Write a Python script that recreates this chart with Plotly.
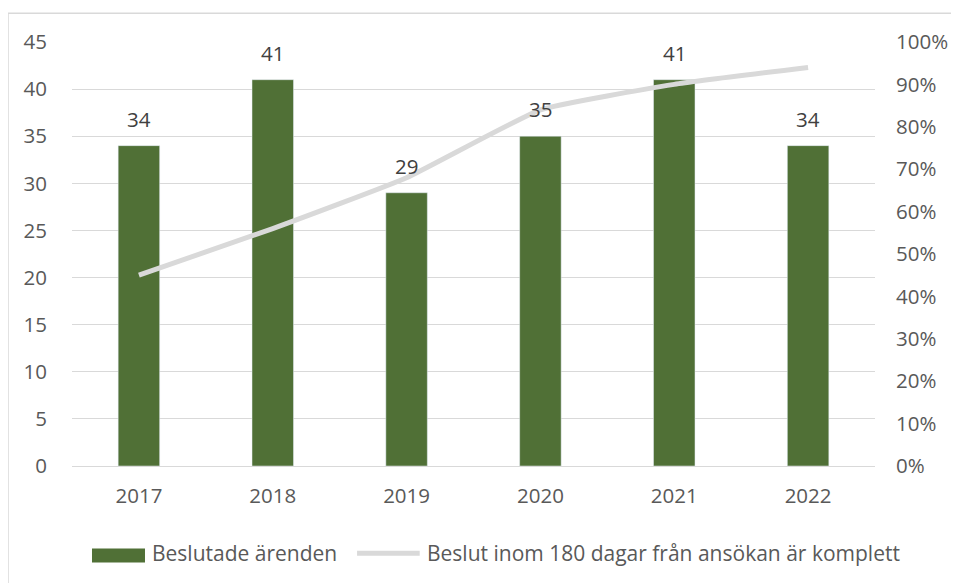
import plotly.graph_objects as go

years = ["2017", "2018", "2019", "2020", "2021", "2022"]
beslutade = [34, 41, 29, 35, 41, 34]
inom180 = [0.45, 0.56, 0.68, 0.84, 0.90, 0.94]
bar_name = "Beslutade ärenden"
line_name = "Beslut inom 180 dagar från ansökan är komplett"

FONT = "Open Sans"
FS = 20.5
LEG = 21
TICK = "#595959"
LABEL = "#404040"
GREEN = "#507036"
GREY = "#D9D9D9"

fig = go.Figure()
fig.add_trace(go.Bar(x=years, y=beslutade, name=bar_name, marker_color=GREEN,
                     width=0.31, showlegend=False))
fig.add_trace(go.Scatter(x=years, y=inom180, name=line_name, yaxis="y2", mode="lines",
                         line=dict(color=GREY, width=5, shape="spline", smoothing=0.4),
                         showlegend=False))

for i, v in enumerate(beslutade):
    fig.add_annotation(x=i, y=v, text=str(v), showarrow=False, yanchor="bottom",
                       yshift=11, font=dict(family=FONT, size=FS, color=LABEL))

# border
fig.add_shape(type="rect", xref="paper", yref="paper", x0=-0.0797, x1=1.2, y0=-0.4, y1=1.068,
              line=dict(color=GREY, width=1.5), fillcolor="rgba(0,0,0,0)", layer="below")

# manual legend
fig.add_shape(type="rect", xref="paper", yref="paper", x0=0.0249, x1=0.0909, y0=-0.1945, y1=-0.2275,
              line=dict(width=0), fillcolor=GREEN)
fig.add_annotation(xref="paper", yref="paper", x=0.0972, y=-0.206, xanchor="left", yanchor="middle",
                   text=bar_name, showarrow=False, font=dict(family=FONT, size=LEG, color=TICK))
fig.add_shape(type="line", xref="paper", yref="paper", x0=0.355, x1=0.433, y0=-0.206, y1=-0.206,
              line=dict(color=GREY, width=5))
fig.add_annotation(xref="paper", yref="paper", x=0.4396, y=-0.206, xanchor="left", yanchor="middle",
                   text=line_name, showarrow=False, font=dict(family=FONT, size=LEG, color=TICK))

fig.update_layout(
    width=951, height=575,
    margin=dict(l=64, r=84, t=34, b=117),
    paper_bgcolor="white", plot_bgcolor="white",
    font=dict(family=FONT, size=FS, color=TICK),
    xaxis=dict(type="category", range=[-0.5, 5.5], showgrid=False, showline=False, ticks="",
               ticklabelstandoff=15, tickfont=dict(size=FS, color=TICK)),
    yaxis=dict(range=[0, 45], dtick=5, showgrid=True, gridcolor=GREY, gridwidth=1,
               zeroline=True, zerolinecolor=GREY, zerolinewidth=1, showline=False,
               ticks="", ticklabelstandoff=24, tickfont=dict(size=FS, color=TICK)),
    yaxis2=dict(range=[0, 1], dtick=0.1, tickformat=".0%", overlaying="y", side="right",
                showgrid=False, zeroline=False, showline=False, ticks="",
                ticklabelstandoff=20, tickfont=dict(size=FS, color=TICK)),
)

fig.write_html("out.html")
